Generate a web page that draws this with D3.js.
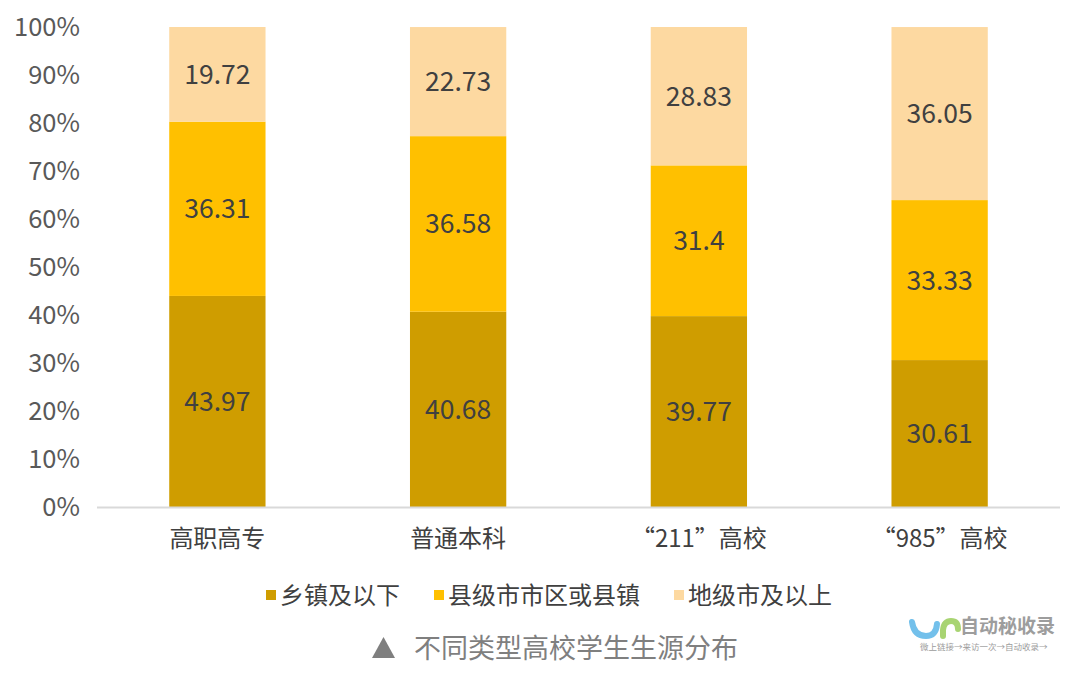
<!DOCTYPE html>
<html><head><meta charset="utf-8">
<script src="https://cdn.jsdelivr.net/npm/d3@7"></script>
<style>body{margin:0;background:#fff}svg{display:block}</style>
</head><body>
<svg id="c" width="1080" height="676"></svg>
<script>
const categories = ["高职高专", "普通本科", "“211”高校", "“985”高校"];
const seriesNames = ["乡镇及以下", "县级市市区或县镇", "地级市及以上"];
const townAndBelow = [43.97, 40.68, 39.77, 30.61];
const countyLevel = [36.31, 36.58, 31.4, 33.33];
const prefectureAbove = [19.72, 22.73, 28.83, 36.05];
const yTicks = [0, 10, 20, 30, 40, 50, 60, 70, 80, 90, 100];
const caption = "不同类型高校学生生源分布";

const colors = ["#CF9D00", "#FFC000", "#FDD9A1"];
const font = "'Noto Sans CJK SC','Noto Sans',sans-serif";
const svg = d3.select("#c");

const x = d3.scaleBand().domain(categories).range([97, 1060]).paddingInner(0.6).paddingOuter(0.3);
const y = d3.scaleLinear().domain([0, 100]).range([507, 27]);

const rows = categories.map((c, i) => ({cat: c, s0: townAndBelow[i], s1: countyLevel[i], s2: prefectureAbove[i]}));
const stack = d3.stack().keys(["s0", "s1", "s2"])(rows);

// y axis labels
svg.append("g").selectAll("text").data(yTicks).join("text")
  .attr("x", 80).attr("y", d => y(d)).attr("dy", "0.36em")
  .attr("text-anchor", "end").attr("font-family", font).attr("font-size", 25.5)
  .attr("fill", "#595959").text(d => d + "%");

// bars
const layers = svg.append("g").selectAll("g").data(stack).join("g").attr("fill", (d, i) => colors[i]);
layers.selectAll("rect").data(d => d).join("rect")
  .attr("x", d => x(d.data.cat)).attr("width", x.bandwidth())
  .attr("y", d => y(d[1])).attr("height", d => y(d[0]) - y(d[1]));

// value labels
const lab = svg.append("g");
stack.forEach(layer => {
  layer.forEach(d => {
    lab.append("text").attr("x", x(d.data.cat) + x.bandwidth() / 2)
      .attr("y", y((d[0] + d[1]) / 2)).attr("dy", "0.36em")
      .attr("text-anchor", "middle").attr("font-family", font).attr("font-size", 26.5)
      .attr("fill", "#404040").text(d.data[layer.key]);
  });
});

// x axis line
svg.append("line").attr("x1", 97).attr("x2", 1060).attr("y1", 507.5).attr("y2", 507.5)
  .attr("stroke", "#D9D9D9").attr("stroke-width", 2);
svg.append("g").selectAll("text").data(categories).join("text")
  .attr("x", d => x(d) + x.bandwidth() / 2).attr("y", 538).attr("dy", "0.36em")
  .attr("text-anchor", "middle").attr("font-family", font).attr("font-size", 24)
  .attr("fill", "#404040").text(d => d);

// legend
const legX = [266, 434, 674];
const leg = svg.append("g").selectAll("g").data(seriesNames).join("g")
  .attr("transform", (d, i) => `translate(${legX[i]},595)`);
leg.append("rect").attr("x", 0).attr("y", -5).attr("width", 10).attr("height", 10).attr("fill", (d, i) => colors[i]);
leg.append("text").attr("x", 14).attr("dy", "0.36em").attr("font-family", font).attr("font-size", 24)
  .attr("fill", "#404040").text(d => d);

// caption
svg.append("path").attr("d", "M372,658 L383.5,637 L395,658 Z").attr("fill", "#7F7F7F");
svg.append("text").attr("x", 414).attr("y", 648).attr("dy", "0.36em").attr("font-family", font)
  .attr("font-size", 27).attr("fill", "#7F7F7F").text(caption);

// watermark
const wm = svg.append("g").attr("opacity", 0.85);
wm.append("path").attr("d", "M912,622 Q914,636 926,636 Q936,636 937,624").attr("fill", "none")
  .attr("stroke", "#5BB6E8").attr("stroke-width", 6).attr("stroke-linecap", "round");
wm.append("path").attr("d", "M943,636 L943,630 Q944,621 951,621 Q958,621 958,629").attr("fill", "none")
  .attr("stroke", "#9ACD5A").attr("stroke-width", 6).attr("stroke-linecap", "round");
wm.append("text").attr("x", 960).attr("y", 626).attr("dy", "0.36em").attr("font-family", font)
  .attr("font-weight", "bold").attr("font-size", 19).attr("fill", "#8C8C8C").text("自动秘收录");
wm.append("text").attr("x", 920).attr("y", 647).attr("dy", "0.36em").attr("font-family", font)
  .attr("font-size", 8.5).attr("fill", "#8C8C8C").text("微上链接→来访一次→自动收录→");
</script>
</body></html>
